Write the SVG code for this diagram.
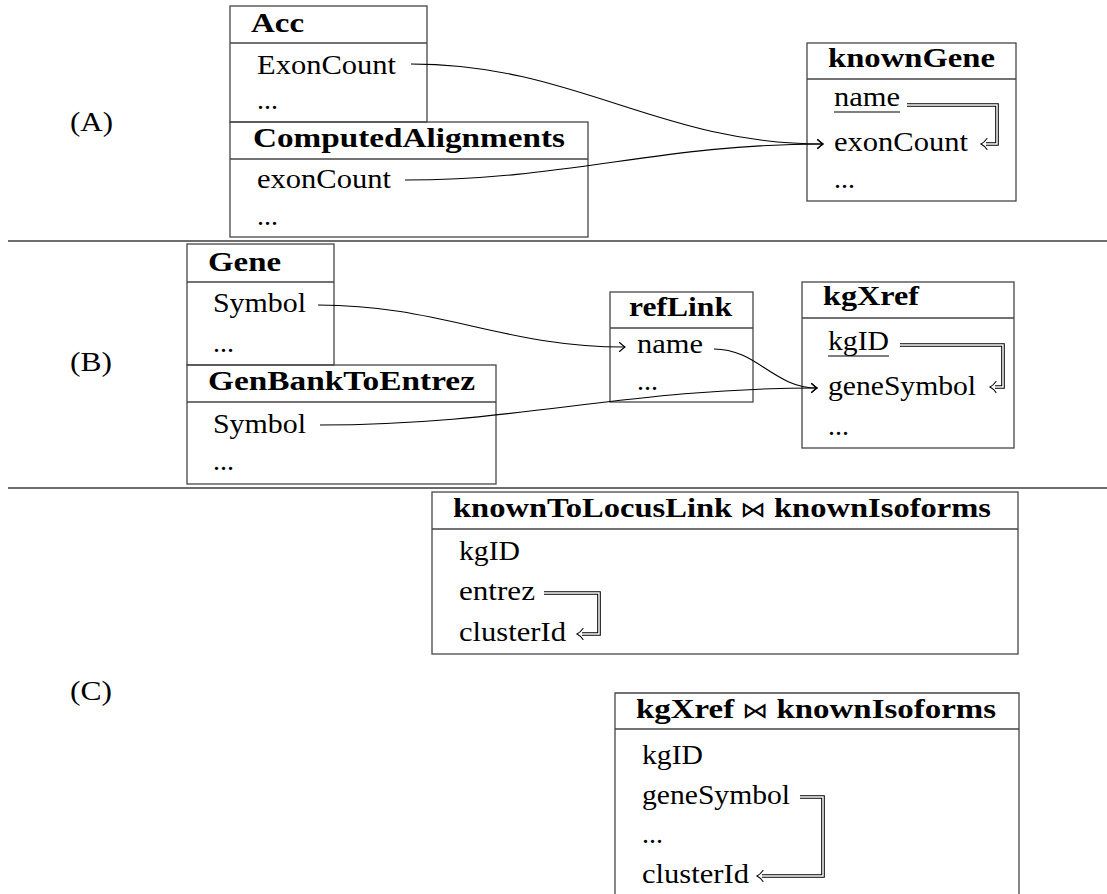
<svg xmlns="http://www.w3.org/2000/svg" width="1107" height="894" viewBox="0 0 1107 894">
<style>
.bx{fill:none;stroke:#454545;stroke-width:1.3}
.t{font-family:"Liberation Serif","Times New Roman",serif;font-size:28px;fill:#000}
.b{font-family:"Liberation Serif","Times New Roman",serif;font-size:28px;font-weight:bold;fill:#000}
.bt{font-family:"DejaVu Serif","DejaVu Sans",serif;font-weight:normal;font-size:22px}
.sep{stroke:#3c3c3c;stroke-width:1.6;fill:none}
.c{fill:none;stroke:#000;stroke-width:1.1}
.ul{stroke:#000;stroke-width:1.1}
.dO{fill:none;stroke:#000;stroke-width:3.6;stroke-linejoin:miter}
.dI{fill:none;stroke:#fff;stroke-width:1.5;stroke-linejoin:miter}
.tip{fill:none;stroke:#000;stroke-width:1.1;stroke-linecap:round}
</style>
<defs>
<marker id="to" markerUnits="userSpaceOnUse" markerWidth="12" markerHeight="12" viewBox="-8 -6 10 12" refX="0" refY="0" orient="auto" overflow="visible">
<path d="M -5.5 -4.5 Q -1.8 -1.2 0 0 Q -1.8 1.2 -5.5 4.5" fill="none" stroke="#000" stroke-width="1.1" stroke-linecap="round"/>
</marker>
</defs>
<rect width="1107" height="894" fill="#fff"/>

<g id="labels">
<text class="t" x="70" y="131" textLength="43" lengthAdjust="spacingAndGlyphs">(A)</text>
<text class="t" x="70" y="371" textLength="42" lengthAdjust="spacingAndGlyphs">(B)</text>
<text class="t" x="70" y="700" textLength="42" lengthAdjust="spacingAndGlyphs">(C)</text>
</g>

<g id="separators">
<line class="sep" x1="8" y1="241" x2="1107" y2="241"/>
<line class="sep" x1="8" y1="488" x2="1107" y2="488"/>
</g>

<g id="node-acc">
<rect class="bx" x="230" y="6" width="197" height="116"/>
<line class="bx" x1="230" y1="43" x2="427" y2="43"/>
<text class="b" x="251" y="32" textLength="53" lengthAdjust="spacingAndGlyphs">Acc</text>
<text class="t" x="257" y="74" textLength="139" lengthAdjust="spacingAndGlyphs">ExonCount</text>
<text class="t" x="257" y="109">...</text>
</g>

<g id="node-computedalignments">
<rect class="bx" x="230" y="122" width="358" height="115"/>
<line class="bx" x1="230" y1="159" x2="588" y2="159"/>
<text class="b" x="253" y="147" textLength="312" lengthAdjust="spacingAndGlyphs">ComputedAlignments</text>
<text class="t" x="257" y="188" textLength="134" lengthAdjust="spacingAndGlyphs">exonCount</text>
<text class="t" x="257" y="225">...</text>
</g>

<g id="node-knowngene">
<rect class="bx" x="807" y="43" width="209" height="158"/>
<line class="bx" x1="807" y1="79" x2="1016" y2="79"/>
<text class="b" x="828" y="67" textLength="167" lengthAdjust="spacingAndGlyphs">knownGene</text>
<text class="t" x="834" y="106" textLength="66" lengthAdjust="spacingAndGlyphs">name</text>
<line class="ul" x1="834" y1="112" x2="900" y2="112"/>
<text class="t" x="834" y="151" textLength="134" lengthAdjust="spacingAndGlyphs">exonCount</text>
<text class="t" x="834" y="188">...</text>
</g>

<g id="node-gene">
<rect class="bx" x="187" y="244" width="147" height="121"/>
<line class="bx" x1="187" y1="282" x2="334" y2="282"/>
<text class="b" x="208" y="271" textLength="73" lengthAdjust="spacingAndGlyphs">Gene</text>
<text class="t" x="213" y="312" textLength="93" lengthAdjust="spacingAndGlyphs">Symbol</text>
<text class="t" x="213" y="352">...</text>
</g>

<g id="node-genbanktoentrez">
<rect class="bx" x="187" y="365" width="309" height="119"/>
<line class="bx" x1="187" y1="402" x2="496" y2="402"/>
<text class="b" x="208" y="390" textLength="267" lengthAdjust="spacingAndGlyphs">GenBankToEntrez</text>
<text class="t" x="213" y="433" textLength="93" lengthAdjust="spacingAndGlyphs">Symbol</text>
<text class="t" x="213" y="470">...</text>
</g>

<g id="node-reflink">
<rect class="bx" x="610" y="292" width="143" height="110"/>
<line class="bx" x1="610" y1="328" x2="753" y2="328"/>
<text class="b" x="629" y="316" textLength="103" lengthAdjust="spacingAndGlyphs">refLink</text>
<text class="t" x="637" y="353" textLength="66" lengthAdjust="spacingAndGlyphs">name</text>
<text class="t" x="637" y="390">...</text>
</g>

<g id="node-kgxref">
<rect class="bx" x="802" y="282" width="212" height="166"/>
<line class="bx" x1="802" y1="318" x2="1014" y2="318"/>
<text class="b" x="823" y="305" textLength="96" lengthAdjust="spacingAndGlyphs">kgXref</text>
<text class="t" x="828" y="350" textLength="61" lengthAdjust="spacingAndGlyphs">kgID</text>
<line class="ul" x1="828" y1="356" x2="889" y2="356"/>
<text class="t" x="828" y="395" textLength="148" lengthAdjust="spacingAndGlyphs">geneSymbol</text>
<text class="t" x="828" y="435">...</text>
</g>

<g id="node-knowntolocuslink-join-knownisoforms">
<rect class="bx" x="432" y="492" width="586" height="162"/>
<line class="bx" x1="432" y1="529" x2="1018" y2="529"/>
<text class="b" x="453" y="517" textLength="538" lengthAdjust="spacingAndGlyphs">knownToLocusLink <tspan class="bt">⋈</tspan> knownIsoforms</text>
<text class="t" x="459" y="560" textLength="61" lengthAdjust="spacingAndGlyphs">kgID</text>
<text class="t" x="459" y="600" textLength="76" lengthAdjust="spacingAndGlyphs">entrez</text>
<text class="t" x="459" y="641" textLength="107" lengthAdjust="spacingAndGlyphs">clusterId</text>
</g>

<g id="node-kgxref-join-knownisoforms">
<path class="bx" d="M 615 900 V 693 H 1019 V 900"/>
<line class="bx" x1="615" y1="729" x2="1019" y2="729"/>
<text class="b" x="636" y="718" textLength="360" lengthAdjust="spacingAndGlyphs">kgXref <tspan class="bt">⋈</tspan> knownIsoforms</text>
<text class="t" x="642" y="764" textLength="61" lengthAdjust="spacingAndGlyphs">kgID</text>
<text class="t" x="642" y="804" textLength="148" lengthAdjust="spacingAndGlyphs">geneSymbol</text>
<text class="t" x="642" y="843">...</text>
<text class="t" x="642" y="883" textLength="107" lengthAdjust="spacingAndGlyphs">clusterId</text>
</g>

<g id="connectors">
<path class="c" d="M 411 64 C 576 64, 658 144, 823 144" marker-end="url(#to)"/>
<path class="c" d="M 405 180 C 570 180, 658 144, 823 144" marker-end="url(#to)"/>
<path class="c" d="M 318 305 C 440 305, 503 347, 625 347" marker-end="url(#to)"/>
<path class="c" d="M 320 425 C 515 425, 622 388, 817 388" marker-end="url(#to)"/>
<path class="c" d="M 714 349 C 757 349, 774 388, 817 388" marker-end="url(#to)"/>

<g id="fd-knowngene">
<path class="dO" d="M 907 105 H 997 V 144 H 986"/>
<path class="dI" d="M 907 105 H 997 V 144 H 985"/>
<path class="tip" d="M 987 138.5 Q 984 142.6 981 144 Q 984 145.4 987 149.5"/>
</g>
<g id="fd-kgxref">
<path class="dO" d="M 900 345 H 1003 V 387 H 995"/>
<path class="dI" d="M 900 345 H 1003 V 387 H 994"/>
<path class="tip" d="M 996 381.5 Q 993 385.6 990 387 Q 993 388.4 996 392.5"/>
</g>
<g id="fd-ktll">
<path class="dO" d="M 544 593 H 599 V 634 H 582"/>
<path class="dI" d="M 544 593 H 599 V 634 H 581"/>
<path class="tip" d="M 583 628.5 Q 580 632.6 577 634 Q 580 635.4 583 639.5"/>
</g>
<g id="fd-kgxref-join">
<path class="dO" d="M 800 797 H 823 V 876 H 762"/>
<path class="dI" d="M 800 797 H 823 V 876 H 761"/>
<path class="tip" d="M 763 870.5 Q 760 874.6 757 876 Q 760 877.4 763 881.5"/>
</g>
</g>
</svg>
